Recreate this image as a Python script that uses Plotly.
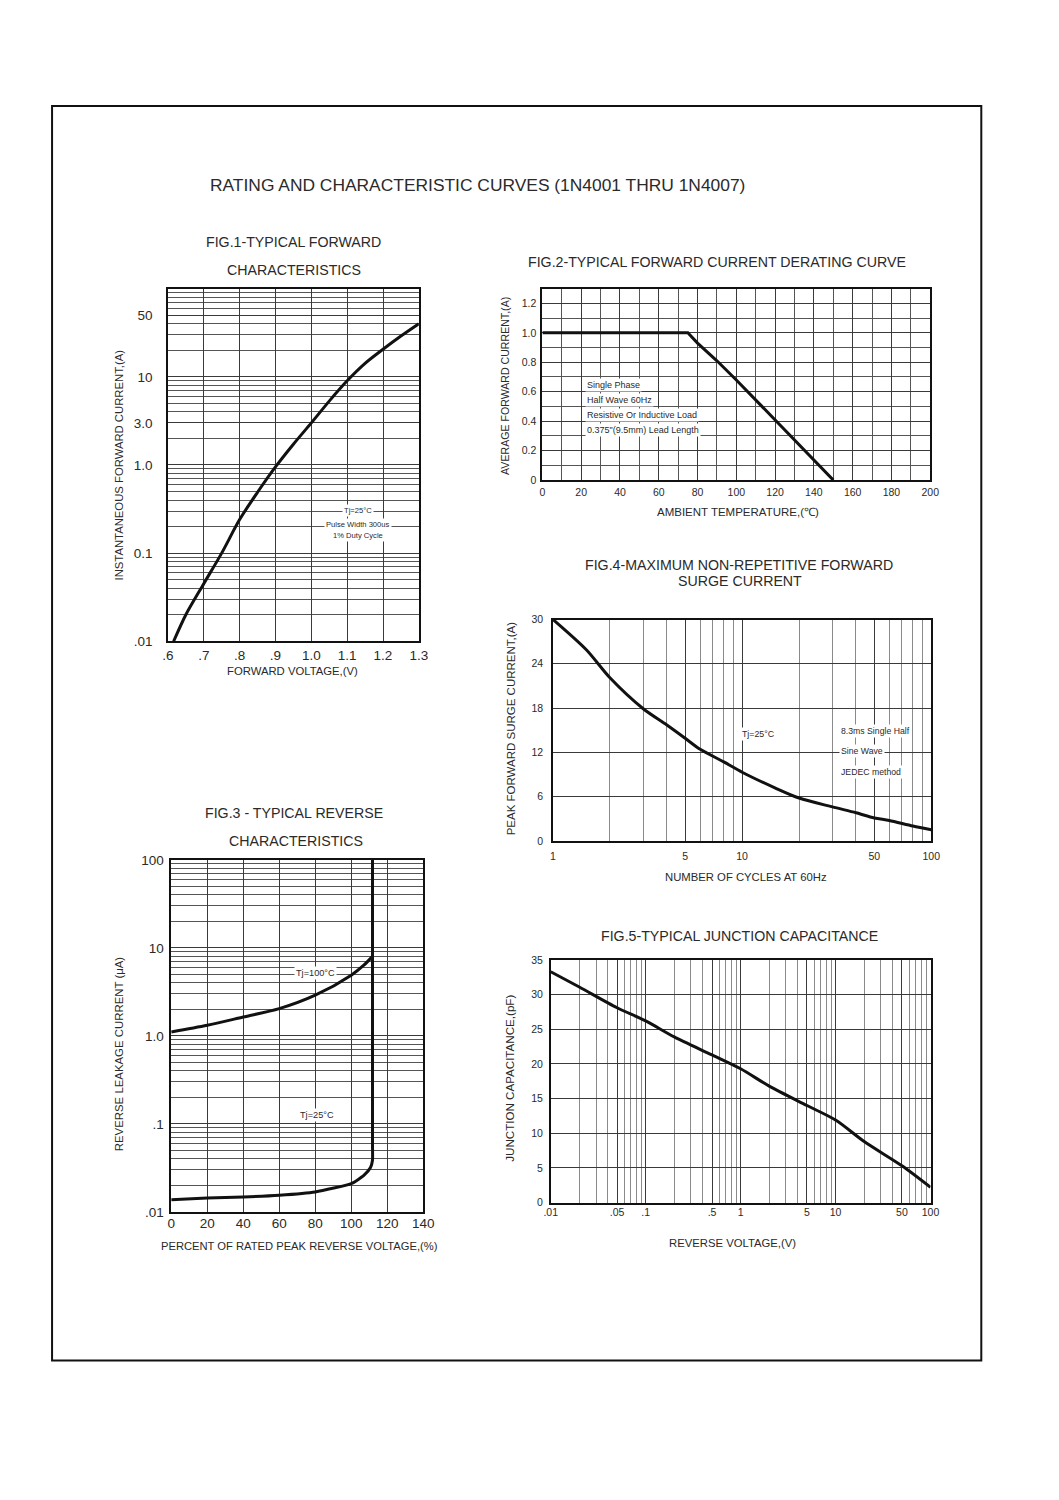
import plotly.graph_objects as go

W, H = 1059, 1500
FONT = "Liberation Sans, Arial, sans-serif"
TXT = "#2a2a2a"
GRID = "#3a3a3a"
GRID_MINOR = "#555555"
GRID_LIGHT = "#8a8a8a"
CURVE = "#111111"

# ---------------- data ----------------
# Fig.1 typical forward characteristics
fig1_voltage = [0.616, 0.65, 0.70, 0.75, 0.80, 0.85, 0.90, 0.95, 1.00, 1.05, 1.10, 1.15, 1.20, 1.25, 1.30]
fig1_current = [0.01, 0.02, 0.045, 0.10, 0.24, 0.49, 0.95, 1.72, 3.0, 5.3, 9.0, 14.2, 20.5, 29.0, 40.0]

# Fig.2 forward current derating curve
fig2_temp = [0, 75, 80, 90, 100, 110, 120, 130, 140, 150]
fig2_current = [1.0, 1.0, 0.93, 0.81, 0.68, 0.545, 0.41, 0.27, 0.135, 0.0]

# Fig.3 typical reverse characteristics
fig3_pct_100 = [0, 20, 40, 60, 80, 100, 107, 111.8]
fig3_leak_100 = [1.11, 1.32, 1.64, 2.04, 2.9, 4.9, 6.35, 8.0]
fig3_pct_25 = [0, 20, 40, 60, 80, 100, 107, 110.7, 111.8, 111.8, 111.8]
fig3_leak_25 = [0.0138, 0.0144, 0.0148, 0.0155, 0.0169, 0.021, 0.026, 0.032, 0.0387, 0.06, 100]

# Fig.4 max non-repetitive forward surge current
fig4_cycles = [1, 1.5, 2, 3, 4, 5, 6, 8, 10, 15, 20, 30, 40, 50, 60, 80, 100]
fig4_surge = [30, 25.9, 22.1, 17.9, 15.7, 13.9, 12.4, 10.7, 9.3, 7.15, 5.8, 4.6, 3.8, 3.1, 2.75, 2.0, 1.5]

# Fig.5 typical junction capacitance
fig5_voltage = [0.01, 0.02, 0.05, 0.1, 0.2, 0.5, 1, 2, 5, 10, 20, 50, 100]
fig5_cap = [33.3, 31.1, 28.1, 26.2, 23.9, 21.3, 19.3, 16.8, 14.0, 11.9, 8.8, 5.3, 2.2]

# ---------------- tick labels ----------------
fig1_xticks = [0.6, 0.7, 0.8, 0.9, 1.0, 1.1, 1.2, 1.3]
fig1_xtext = [".6", ".7", ".8", ".9", "1.0", "1.1", "1.2", "1.3"]
fig1_yticks = [0.01, 0.1, 1, 3, 10, 50]
fig1_ytext = [".01", "0.1", "1.0", "3.0", "10", "50"]

fig2_xticks = [0, 20, 40, 60, 80, 100, 120, 140, 160, 180, 200]
fig2_xtext = [str(v) for v in fig2_xticks]
fig2_yticks = [0, 0.2, 0.4, 0.6, 0.8, 1.0, 1.2]
fig2_ytext = ["0", "0.2", "0.4", "0.6", "0.8", "1.0", "1.2"]

fig3_xticks = [0, 20, 40, 60, 80, 100, 120, 140]
fig3_xtext = [str(v) for v in fig3_xticks]
fig3_yticks = [0.01, 0.1, 1, 10, 100]
fig3_ytext = [".01", ".1", "1.0", "10", "100"]

fig4_xticks = [1, 5, 10, 50, 100]
fig4_xtext = ["1", "5", "10", "50", "100"]
fig4_yticks = [0, 6, 12, 18, 24, 30]
fig4_ytext = [str(v) for v in fig4_yticks]

fig5_xticks = [0.01, 0.05, 0.1, 0.5, 1, 5, 10, 50, 100]
fig5_xtext = [".01", ".05", ".1", ".5", "1", "5", "10", "50", "100"]
fig5_yticks = [0, 5, 10, 15, 20, 25, 30, 35]
fig5_ytext = [str(v) for v in fig5_yticks]

# page-position calibration (target pixel -> layout pixel)
SX, OX = 0.9817, 7.0
SY, OY = 0.9888, 8.2


def PX(x):
    return (x - OX) / SX / W


def PY(y):
    return 1 - (y - OY) / SY / H


def log_minor(lo, hi):
    return [k * 10 ** e for e in range(lo, hi) for k in range(2, 10)]


def dom_x(a, b):
    return [PX(a), PX(b)]


def dom_y(top, bottom):
    return [PY(bottom), PY(top)]


def axis(domain, anchor, rng, tickvals, ticktext, tsize, standoff, typ="linear",
         minor_vals=None, minor_color=GRID_MINOR, lw=1.5, grid=GRID):
    d = dict(
        domain=domain, anchor=anchor, range=rng, type=typ,
        showline=True, linecolor="#111", linewidth=lw, mirror=True,
        ticks="", ticklen=0, showgrid=True, gridcolor=grid, gridwidth=1, zeroline=False,
        tickmode="array", tickvals=tickvals, ticktext=ticktext,
        tickfont=dict(family=FONT, size=tsize, color=TXT),
        ticklabelstandoff=standoff, fixedrange=True,
    )
    if minor_vals is not None:
        d["minor"] = dict(tickmode="array", tickvals=minor_vals, showgrid=True,
                          gridcolor=minor_color, gridwidth=1, ticks="")
    return d


fig = go.Figure()
smooth = dict(color=CURVE, width=3, shape="spline", smoothing=0.8)
straight = dict(color=CURVE, width=3)
fig.add_trace(go.Scatter(x=fig1_voltage, y=fig1_current, mode="lines", line=smooth, xaxis="x", yaxis="y"))
fig.add_trace(go.Scatter(x=fig2_temp, y=fig2_current, mode="lines", line=straight, xaxis="x2", yaxis="y2"))
fig.add_trace(go.Scatter(x=fig3_pct_100, y=fig3_leak_100, mode="lines", line=smooth, xaxis="x3", yaxis="y3"))
fig.add_trace(go.Scatter(x=fig3_pct_25, y=fig3_leak_25, mode="lines",
                         line=dict(color=CURVE, width=3, shape="spline", smoothing=0.5), xaxis="x3", yaxis="y3"))
fig.add_trace(go.Scatter(x=fig4_cycles, y=fig4_surge, mode="lines", line=smooth, xaxis="x4", yaxis="y4"))
fig.add_trace(go.Scatter(x=fig5_voltage, y=fig5_cap, mode="lines", line=smooth, xaxis="x5", yaxis="y5"))

layout = dict(
    width=W, height=H, margin=dict(l=0, r=0, t=0, b=0),
    paper_bgcolor="white", plot_bgcolor="white", showlegend=False,
    font=dict(family=FONT, color=TXT),
)

# Fig.1
layout["xaxis"] = axis(dom_x(167.7, 418.3), "y", [0.6, 1.3], fig1_xticks, fig1_xtext, 13.5, 1)
layout["yaxis"] = axis(dom_y(289.5, 641.7), "x", [-2, 2], fig1_yticks, fig1_ytext, 13.5, 11,
                       typ="log", minor_vals=log_minor(-2, 2))
# Fig.2
layout["xaxis2"] = axis(dom_x(541.7, 929), "y2", [0, 200], fig2_xticks, fig2_xtext, 10.5, 1,
                        minor_vals=list(range(10, 200, 20)), lw=2)
layout["yaxis2"] = axis(dom_y(289.5, 480.7), "x2", [0, 1.3], fig2_yticks, fig2_ytext, 10.5, 2,
                        minor_vals=[0.1, 0.3, 0.5, 0.7, 0.9, 1.1], lw=2)
# Fig.3
layout["xaxis3"] = axis(dom_x(171, 422.7), "y3", [0, 140], fig3_xticks, fig3_xtext, 13.5, -2)
layout["yaxis3"] = axis(dom_y(860, 1211.7), "x3", [-2, 2], fig3_yticks, fig3_ytext, 13.5, 3,
                        typ="log", minor_vals=log_minor(-2, 2))
# Fig.4
layout["xaxis4"] = axis(dom_x(552.3, 930), "y4", [0, 2], fig4_xticks, fig4_xtext, 10.5, 5,
                        typ="log", minor_vals=[2, 3, 4, 6, 7, 8, 9, 20, 30, 40, 60, 70, 80, 90],
                        minor_color=GRID_LIGHT)
layout["yaxis4"] = axis(dom_y(620, 841), "x4", [0, 30], fig4_yticks, fig4_ytext, 10.5, 6)
# Fig.5
layout["xaxis5"] = axis(dom_x(550, 929.3), "y5", [-2, 2], fig5_xticks, fig5_xtext, 10.5, -1,
                        typ="log", minor_vals=log_minor(-2, 2), minor_color=GRID_LIGHT)
layout["yaxis5"] = axis(dom_y(960, 1202.3), "x5", [0, 35], fig5_yticks, fig5_ytext, 10.5, 4)


def ann(text, x, y, size, angle=0, xanchor="center", bg=None):
    a = dict(text=text, x=PX(x), y=PY(y), xref="paper", yref="paper", showarrow=False,
             font=dict(family=FONT, size=size, color=TXT), xanchor=xanchor, yanchor="middle",
             textangle=angle)
    if bg:
        a["bgcolor"] = bg
        a["borderpad"] = 1
    return a


annotations = [
    ann("RATING AND CHARACTERISTIC CURVES (1N4001 THRU 1N4007)", 477, 186, 17.4),
    # titles
    ann("FIG.1-TYPICAL FORWARD", 293, 243, 14.2),
    ann("CHARACTERISTICS", 293.5, 271, 14.2),
    ann("FIG.2-TYPICAL FORWARD CURRENT DERATING CURVE", 716, 263, 14.2),
    ann("FIG.4-MAXIMUM NON-REPETITIVE FORWARD", 738.5, 566, 14.2),
    ann("SURGE CURRENT", 739.5, 582, 14.2),
    ann("FIG.3 - TYPICAL REVERSE", 294, 813, 14.2),
    ann("CHARACTERISTICS", 296, 841, 14.2),
    ann("FIG.5-TYPICAL JUNCTION CAPACITANCE", 739, 936, 14.2),
    # axis titles
    ann("INSTANTANEOUS FORWARD CURRENT,(A)", 119, 466, 11.3, angle=-90),
    ann("FORWARD VOLTAGE,(V)", 292, 671, 11.3),
    ann("AVERAGE FORWARD CURRENT,(A)", 505, 387, 10.6, angle=-90),
    ann("AMBIENT TEMPERATURE,(℃)", 737, 513, 11.5),
    ann("PEAK FORWARD SURGE CURRENT,(A)", 510, 729, 11.5, angle=-90),
    ann("NUMBER OF CYCLES AT 60Hz", 745, 877, 11.3),
    ann("REVERSE LEAKAGE CURRENT (μA)", 119, 1054, 11.4, angle=-90),
    ann("PERCENT OF RATED PEAK REVERSE VOLTAGE,(%)", 299, 1246, 11.2),
    ann("JUNCTION CAPACITANCE,(pF)", 508, 1078, 11.6, angle=-90),
    ann("REVERSE VOLTAGE,(V)", 732, 1243, 11.3),
    # in-plot notes
    ann("Tj=25°C", 358, 511, 7.6, bg="white"),
    ann("Pulse Width 300us", 358, 525, 7.6, bg="white"),
    ann("1% Duty Cycle", 358, 536.5, 7.6, bg="white"),
    ann("Single Phase", 584, 386, 9, xanchor="left", bg="white"),
    ann("Half Wave 60Hz", 584, 400.7, 9, xanchor="left", bg="white"),
    ann("Resistive Or Inductive Load", 584, 415.3, 9, xanchor="left", bg="white"),
    ann("0.375\"(9.5mm) Lead Length", 584, 430.7, 9, xanchor="left", bg="white"),
    ann("Tj=25°C", 758, 734, 8.8, bg="white"),
    ann("8.3ms Single Half", 838, 731.7, 8.7, xanchor="left", bg="white"),
    ann("Sine Wave", 838, 751.7, 8.7, xanchor="left", bg="white"),
    ann("JEDEC method", 838, 772.7, 8.7, xanchor="left", bg="white"),
    ann("Tj=100°C", 315, 973, 9.2, bg="white"),
    ann("Tj=25°C", 317, 1115, 9.2, bg="white"),
]
layout["annotations"] = annotations

layout["shapes"] = [
    dict(type="rect", xref="paper", yref="paper", x0=PX(52), x1=PX(980),
         y0=PY(1360), y1=PY(107), line=dict(color="#111", width=2), fillcolor="rgba(0,0,0,0)")
]

fig.update_layout(**layout)
fig.write_html(
    "out.html",
    config={"displayModeBar": False},
    post_script="document.body.style.margin='0';document.body.style.padding='0';"
                "document.documentElement.style.overflow='hidden';",
)
